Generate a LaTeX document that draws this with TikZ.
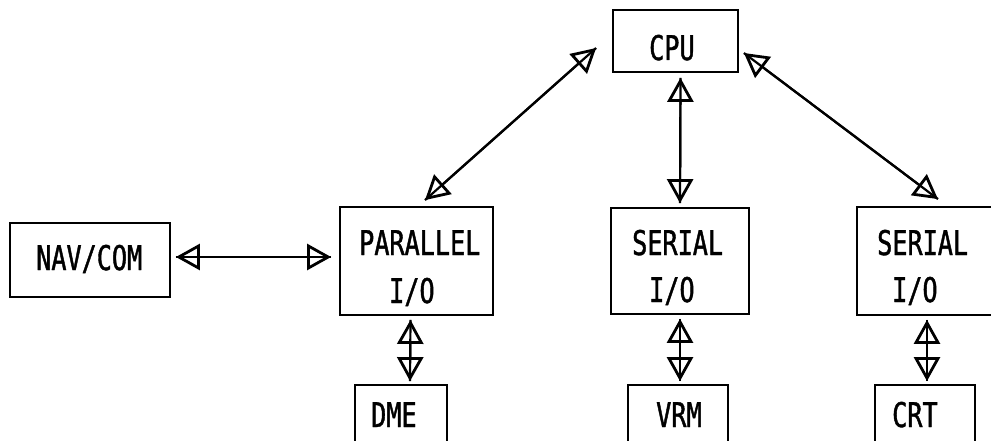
\documentclass[tikz,border=0pt]{standalone}
\usepackage{fontspec}
\newfontfamily\diagfont[FakeStretch=0.74,FakeBold=1.2]{DejaVu Sans Mono}
\usetikzlibrary{arrows.meta,calc}
\tikzset{
  blk/.style={draw, line width=1.8pt, rectangle, inner sep=0pt},
  lbl/.style={anchor=base west, inner sep=0pt, font=\diagfont\fontsize{34}{38}\selectfont},
  arr/.style={line width=2.2pt, {Triangle[open,length=24pt,width=26pt,line width=2.8pt]}-{Triangle[open,length=24pt,width=26pt,line width=2.8pt]},
              postaction={draw,-,line width=2.2pt}}
}
\begin{document}
\begin{tikzpicture}[x=1pt,y=-1pt]
\useasboundingbox (0,0) rectangle (991,441);
\clip (0,0) rectangle (991,441);
\fill[white] (0,0) rectangle (991,441);
% boxes
\node[blk, minimum width=125pt, minimum height=62pt] (cpu) at (675.5,41) {};
\node[blk, minimum width=160pt, minimum height=74pt] (nav) at (90,260) {};
\node[blk, minimum width=153pt, minimum height=108pt] (par) at (416.5,261) {};
\node[blk, minimum width=138pt, minimum height=106pt] (ser1) at (680,261) {};
\node[blk, minimum width=150pt, minimum height=108pt] (ser2) at (932,261) {};
\node[blk, minimum width=92pt, minimum height=80pt] (dme) at (401,425) {};
\node[blk, minimum width=100pt, minimum height=80pt] (vrm) at (678,425) {};
\node[blk, minimum width=100pt, minimum height=80pt] (crt) at (925,425) {};
% texts
\node[lbl] (tcpu) at (649,60) {CPU};
\node[lbl] (tnav) at (36,270) {NAV/COM};
\node[lbl] (tpar1) at (359,255) {PARALLEL};
\node[lbl] (tpar2) at (389,303) {I/O};
\node[lbl] (ts1a) at (632,255) {SERIAL};
\node[lbl] (ts1b) at (649,302) {I/O};
\node[lbl] (ts2a) at (877,255) {SERIAL};
\node[lbl] (ts2b) at (892,302) {I/O};
\node[lbl] (tdme) at (371,427) {DME};
\node[lbl] (tvrm) at (656,427) {VRM};
\node[lbl] (tcrt) at (892,427) {CRT};
% connectors
\draw[arr] ($(nav.east)+(5,-3)$) -- ($(par.west)+(-8,-4)$);
\draw[arr] ($(cpu.west)+(-16,7)$) -- ($(par.north)+(8.5,-6)$);
\draw[arr] ($(cpu.east)+(5,12)$) -- ($(ser2.north)+(6,-7)$);
\draw[arr] ($(cpu.south)+(5,5)$) -- ($(ser1.north)+(0,-4)$);
\draw[arr] ($(par.south)+(-6,4)$) -- ($(dme.north)+(9,-3)$);
\draw[arr] ($(ser1.south)+(0,4)$) -- ($(vrm.north)+(2,-3)$);
\draw[arr] ($(ser2.south)+(-5,4)$) -- ($(crt.north)+(2,-3)$);
\end{tikzpicture}
\end{document}
